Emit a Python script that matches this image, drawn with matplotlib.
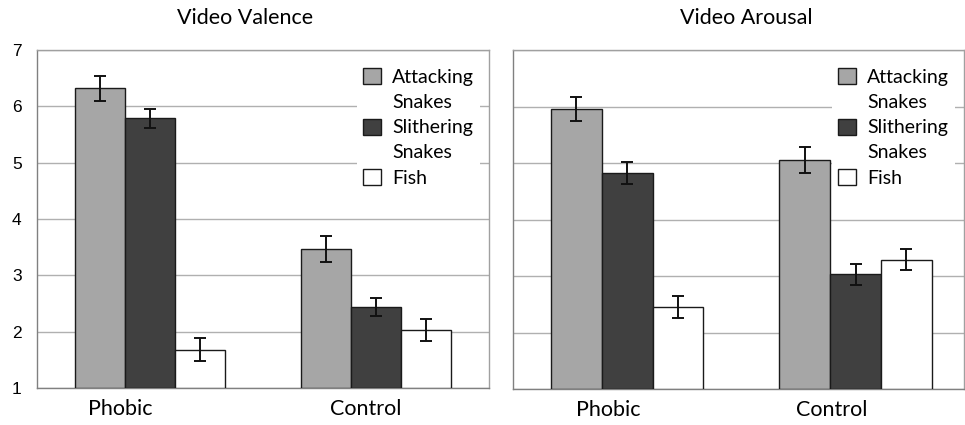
import numpy as np
import matplotlib
matplotlib.use("Agg")
from matplotlib import pyplot as plt
from matplotlib.patches import Patch

groups = ["Phobic", "Control"]
series = ["Attacking\nSnakes", "Slithering\nSnakes", "Fish"]

valence_mean = [[6.32, 3.47], [5.79, 2.43], [1.68, 2.03]]
valence_err = [[0.22, 0.23], [0.17, 0.16], [0.20, 0.20]]
arousal_mean = [[5.95, 5.05], [4.82, 3.03], [2.45, 3.29]]
arousal_err = [[0.21, 0.23], [0.20, 0.19], [0.19, 0.19]]

colors = ["#a6a6a6", "#404040", "#ffffff"]
text_font = "Lato"
num_font = "Liberation Sans"

W, H = 965, 425
fig = plt.figure(figsize=(W / 100, H / 100), dpi=100)


def px_axes(x0, x1, y0, y1):
    return fig.add_axes([x0 / W, 1 - y1 / H, (x1 - x0) / W, (y1 - y0) / H])


def draw_panel(ax, means, errs, label_shift, show_y):
    x = np.arange(len(groups))
    bw = 0.222
    for k, (m, e) in enumerate(zip(means, errs)):
        ax.bar(x + (k - 1) * bw, np.array(m) - 1, bw, bottom=1, color=colors[k],
               edgecolor="#1a1a1a", linewidth=1.0, zorder=3)
        ax.errorbar(x + (k - 1) * bw, m, yerr=e, fmt="none", ecolor="#111111",
                    elinewidth=1.4, capsize=4, capthick=1.4, zorder=4)
    ax.set_ylim(1, 7)
    ax.set_yticks(range(1, 8))
    ax.grid(axis="y", color="#b0b0b0", linewidth=1.0, zorder=0)
    ax.set_axisbelow(True)
    for s in ax.spines.values():
        s.set_color("#a0a0a0")
        s.set_linewidth(1.0)
    ax.spines["left"].set_color("#808080")
    ax.spines["bottom"].set_color("#808080")
    ax.set_xticks(x + np.array(label_shift))
    ax.set_xticklabels(groups, fontsize=15.5, family=text_font)
    ax.tick_params(axis="x", length=0, pad=8)
    ax.tick_params(axis="y", length=0, pad=11)
    if show_y:
        for t in ax.get_yticklabels():
            t.set_family(num_font)
            t.set_fontsize(12.5)
    else:
        ax.set_yticklabels([])

    handles = [Patch(facecolor=colors[0], edgecolor="#1a1a1a"),
               Patch(facecolor="none", edgecolor="none"),
               Patch(facecolor=colors[1], edgecolor="#1a1a1a"),
               Patch(facecolor="none", edgecolor="none"),
               Patch(facecolor=colors[2], edgecolor="#1a1a1a")]
    labels = []
    for s in series:
        labels.extend(s.split("\n"))
    leg = ax.legend(handles, labels, loc="upper right", bbox_to_anchor=(0.988, 0.975),
                    frameon=True, fancybox=False, framealpha=1, edgecolor="none",
                    facecolor="white", prop={"family": text_font, "size": 14},
                    handlelength=0.95, handleheight=0.9, handletextpad=0.55,
                    labelspacing=0.38, borderpad=0.3, borderaxespad=0.2)
    leg.set_zorder(5)


ax1 = px_axes(37, 489, 50, 388)
draw_panel(ax1, valence_mean, valence_err, [-0.13, -0.045], True)
ax1.set_xlim(-0.5, 1.5)

ax2 = px_axes(513, 964, 50, 389)
draw_panel(ax2, arousal_mean, arousal_err, [-0.085, -0.105], False)
ax2.set_xlim(-0.5, 1.475)

fig.text(245 / W, 1 - 18 / H, "Video Valence", ha="center", va="center",
         fontsize=15.5, family=text_font)
fig.text(746 / W, 1 - 18 / H, "Video Arousal", ha="center", va="center",
         fontsize=15.5, family=text_font)

fig.savefig("out.png", dpi=100)
